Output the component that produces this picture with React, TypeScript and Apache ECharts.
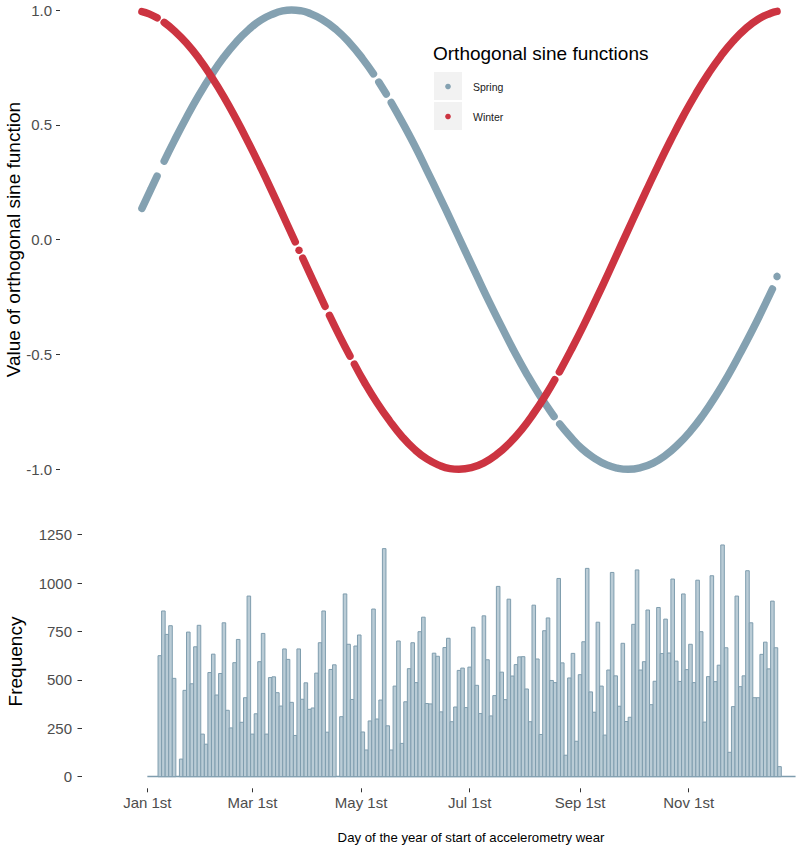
import React, { useEffect, useRef } from "react";
import * as echarts from "echarts";

// ---------- data ----------
const seriesNames = ["Spring", "Winter"];

// [day of year (Jan 1st = 0), value]; null marks days without data (gaps)
const springPoints: [number, number | null][] = [
  [-3, 0.136], [2, 0.219], [5.5, 0.277], [7.5, null], [9.5, 0.342], [15, 0.428], [22, 0.532],
  [29, 0.629], [36, 0.717], [43, 0.795], [50, 0.861], [57, 0.915], [64, 0.957], [71, 0.984],
  [76, 0.996], [81, 1.0], [86, 0.997], [90, 0.989], [98, 0.96], [106, 0.915], [114, 0.853],
  [121, 0.787], [127, 0.722], [128.5, null], [130, 0.686], [134.2, 0.634], [135.6, null],
  [137, 0.597], [143, 0.514], [150, 0.412], [157, 0.302], [164, 0.19], [171, 0.075],
  [178, -0.041], [185, -0.157], [192, -0.271], [199, -0.38], [206, -0.486], [213, -0.584],
  [220, -0.674], [226, -0.743], [228.4, -0.77], [230, null], [231.6, -0.803], [237, -0.853],
  [244, -0.91], [251, -0.951], [258, -0.981], [264, -0.995], [270, -1.0], [277, -0.993],
  [284, -0.973], [291, -0.939], [298, -0.892], [305, -0.834], [312, -0.764], [319, -0.683],
  [326, -0.593], [333, -0.494], [340, -0.39], [346, -0.296], [351, -0.215], [352.3, null],
  [353.6, -0.16],
];

const winterPoints: [number, number | null][] = [
  [-3, 0.993], [1, 0.983], [5.5, 0.966], [7.5, null], [9.5, 0.946], [15, 0.911], [22, 0.856],
  [29, 0.789], [36, 0.71], [43, 0.622], [50, 0.524], [57, 0.419], [64, 0.309], [71, 0.194],
  [78, 0.076], [83.1, -0.01], [84.15, null], [85.2, -0.046], [86.25, null], [87.3, -0.081],
  [93, -0.177], [99.8, -0.29], [101, null], [102.3, -0.33], [108, -0.42], [113.8, -0.507],
  [115, null], [116.3, -0.542], [122, -0.622], [129, -0.71], [136, -0.788], [143, -0.857],
  [150, -0.913], [157, -0.955], [164, -0.983], [170, -0.997], [175, -1.0], [182, -0.993],
  [189, -0.972], [196, -0.937], [203, -0.889], [210, -0.829], [217, -0.756], [224, -0.673],
  [228.8, -0.61], [230, null], [231.4, -0.576], [238, -0.48], [245, -0.373], [252, -0.26],
  [259, -0.144], [266, -0.025], [273, 0.093], [280, 0.21], [287, 0.325], [294, 0.435],
  [301, 0.539], [308, 0.635], [315, 0.722], [322, 0.799], [329, 0.865], [336, 0.919],
  [343, 0.96], [350, 0.986], [353.6, 0.994],
];

const topTickValues = [-1, -0.5, 0, 0.5, 1];

// histogram: 2-day bins starting at Jan 1st
const binStartDay = 0;
const binWidthDays = 2;
const frequencyCounts = [
  0, 0, 0,
  625, 856, 735, 780, 508, 0, 91, 446, 747, 480,
  671, 782, 220, 168, 538, 633, 422, 533, 795, 343,
  252, 589, 709, 281, 408, 933, 220, 325, 594, 740,
  220, 512, 516, 434, 365, 660, 606, 384, 213, 660,
  400, 485, 348, 355, 535, 692, 856, 230, 554, 578,
  0, 310, 944, 684, 399, 675, 732, 231, 138, 288,
  866, 298, 396, 1178, 263, 138, 468, 701, 172, 387,
  558, 692, 486, 749, 824, 378, 376, 638, 622, 335,
  667, 715, 284, 360, 549, 561, 357, 566, 772, 472,
  326, 831, 604, 314, 419, 983, 540, 398, 917, 520,
  579, 619, 620, 453, 284, 886, 608, 218, 754, 820,
  497, 486, 1024, 588, 111, 510, 637, 183, 527, 697,
  1076, 438, 333, 798, 468, 215, 551, 1055, 521, 364,
  689, 285, 307, 787, 1068, 551, 594, 861, 372, 493,
  874, 636, 814, 639, 1021, 597, 492, 944, 553, 684,
  486, 1015, 749, 282, 517, 1038, 491, 576, 1197, 666,
  126, 362, 933, 465, 521, 1064, 795, 408, 408, 632,
  695, 557, 907, 666, 52,
  0, 0, 0, 0,
];
const frequencyTicks = [0, 250, 500, 750, 1000, 1250];

const monthTickDays = [0, 59, 120, 181, 243, 304];
const monthTickLabels = ["Jan 1st", "Mar 1st", "May 1st", "Jul 1st", "Sep 1st", "Nov 1st"];

const topYTitle = "Value of orthogonal sine function";
const bottomYTitle = "Frequency";
const xTitle = "Day of the year of start of accelerometry wear";
const legendTitle = "Orthogonal sine functions";

// ---------- styles ----------
const FONT = "'Liberation Sans', Arial, Helvetica, sans-serif";
const SPRING_COLOR = "#84A1B1";
const WINTER_COLOR = "#CC3441";
const BAR_FILL = "#BACCD6";
const BAR_STROKE = "#7F9DAE";
const TICK_COLOR = "#333333";
const LABEL_COLOR = "#4D4D4D";
const DOT = 7.5;

const toLineData = (pts: [number, number | null][]) =>
  pts.map(([d, v]) => [d, v === null ? "-" : v]);

// points whose neighbours are both missing (drawn as single dots)
const isolatedPoints = (pts: [number, number | null][]) =>
  pts.filter(([, v], i) => {
    if (v === null) return false;
    const prev = i > 0 ? pts[i - 1][1] : null;
    const next = i < pts.length - 1 ? pts[i + 1][1] : null;
    return prev === null && next === null;
  });

export default function App() {
  const ref = useRef<HTMLDivElement>(null);

  useEffect(() => {
    if (!ref.current) return;
    const chart = echarts.init(ref.current, undefined, { renderer: "svg" });

    const binData = frequencyCounts.map((c, j) => [
      binStartDay + j * binWidthDays,
      binStartDay + (j + 1) * binWidthDays,
      c,
    ]);
    const baseline = [
      [binData[0][0], 0],
      [binData[binData.length - 1][1], 0],
    ];

    const lineSeries = (name: string, pts: [number, number | null][], color: string, z: number) => [
      {
        name,
        type: "line",
        xAxisIndex: 0,
        yAxisIndex: 0,
        data: toLineData(pts),
        smooth: 0.5,
        showSymbol: false,
        lineStyle: { color, width: DOT, cap: "round", join: "round" },
        connectNulls: false,
        clip: false,
        z,
        silent: true,
      },
      {
        name,
        type: "scatter",
        xAxisIndex: 0,
        yAxisIndex: 0,
        data: isolatedPoints(pts),
        symbol: "circle",
        symbolSize: DOT,
        itemStyle: { color, opacity: 1 },
        clip: false,
        z,
        silent: true,
      },
    ];

    const option: any = {
      animation: false,
      backgroundColor: "#ffffff",
      textStyle: { fontFamily: FONT },
      grid: [
        { left: 60, top: 10, right: 0, height: 459.3 },
        { left: 82, top: 534.7, right: 0, height: 242 },
      ],
      xAxis: [
        { gridIndex: 0, type: "value", min: -49, max: 366.5, show: false },
        {
          gridIndex: 1,
          type: "value",
          min: -36.7,
          max: 366.5,
          offset: 11.6,
          axisLine: { show: false, onZero: false },
          splitLine: { show: false },
          axisTick: {
            show: true,
            length: 4,
            customValues: monthTickDays,
            lineStyle: { color: TICK_COLOR, width: 1 },
          },
          axisLabel: {
            customValues: monthTickDays,
            formatter: (v: number) => {
              const i = monthTickDays.indexOf(Math.round(v));
              return i >= 0 ? monthTickLabels[i] : "";
            },
            fontSize: 15,
            color: LABEL_COLOR,
            margin: 7,
            fontFamily: FONT,
          },
        },
      ],
      yAxis: [
        {
          gridIndex: 0,
          type: "value",
          min: topTickValues[0],
          max: topTickValues[topTickValues.length - 1],
          interval: 0.5,
          axisLine: { show: false, onZero: false },
          splitLine: { show: false },
          axisTick: { show: true, length: 4, lineStyle: { color: TICK_COLOR, width: 1 } },
          axisLabel: {
            formatter: (v: number) => v.toFixed(1),
            fontSize: 15,
            color: LABEL_COLOR,
            margin: 8,
            fontFamily: FONT,
          },
        },
        {
          gridIndex: 1,
          type: "value",
          min: frequencyTicks[0],
          max: frequencyTicks[frequencyTicks.length - 1],
          interval: 250,
          axisLine: { show: false, onZero: false },
          splitLine: { show: false },
          axisTick: { show: true, length: 4.5, lineStyle: { color: TICK_COLOR, width: 1 } },
          axisLabel: {
            formatter: (v: number) => String(v),
            fontSize: 15,
            color: LABEL_COLOR,
            margin: 10,
            fontFamily: FONT,
          },
        },
      ],
      series: [
        ...lineSeries(seriesNames[0], springPoints, SPRING_COLOR, 2),
        ...lineSeries(seriesNames[1], winterPoints, WINTER_COLOR, 3),
        {
          type: "line",
          xAxisIndex: 1,
          yAxisIndex: 1,
          data: baseline,
          showSymbol: false,
          lineStyle: { color: BAR_STROKE, width: 1.8 },
          z: 2,
          silent: true,
        },
        {
          type: "custom",
          xAxisIndex: 1,
          yAxisIndex: 1,
          data: binData,
          encode: { x: [0, 1], y: 2 },
          silent: true,
          z: 3,
          renderItem: (_params: any, api: any) => {
            const c = api.value(2);
            if (!c) return { type: "group", children: [] };
            const p0 = api.coord([api.value(0), 0]);
            const p1 = api.coord([api.value(1), c]);
            return {
              type: "rect",
              shape: { x: p0[0], y: p1[1], width: p1[0] - p0[0], height: p0[1] - p1[1] },
              style: { fill: BAR_FILL, stroke: BAR_STROKE, lineWidth: 1 },
            };
          },
        },
      ],
      graphic: [
        {
          type: "text",
          x: 13,
          y: 239.6,
          rotation: Math.PI / 2,
          style: {
            text: topYTitle,
            fontSize: 19,
            fontFamily: FONT,
            fill: "#000000",
            align: "center",
            verticalAlign: "middle",
          },
        },
        {
          type: "text",
          x: 15,
          y: 661.5,
          rotation: Math.PI / 2,
          style: {
            text: bottomYTitle,
            fontSize: 19,
            fontFamily: FONT,
            fill: "#000000",
            align: "center",
            verticalAlign: "middle",
          },
        },
        {
          type: "text",
          x: 471,
          y: 837,
          style: {
            text: xTitle,
            fontSize: 13.2,
            fontFamily: FONT,
            fill: "#000000",
            align: "center",
            verticalAlign: "middle",
          },
        },
        {
          type: "text",
          x: 433,
          y: 53,
          style: {
            text: legendTitle,
            fontSize: 19,
            fontFamily: FONT,
            fill: "#000000",
            align: "left",
            verticalAlign: "middle",
          },
        },
        ...seriesNames.flatMap((name, i) => {
          const color = i === 0 ? SPRING_COLOR : WINTER_COLOR;
          const top = 72 + i * 30;
          return [
            { type: "rect", shape: { x: 434, y: top, width: 28, height: 28 }, style: { fill: "#F2F2F2" } },
            { type: "circle", shape: { cx: 448, cy: top + 14.5, r: 2.8 }, style: { fill: color } },
            {
              type: "text",
              x: 473,
              y: top + 14.5,
              style: {
                text: name,
                fontSize: 10.5,
                fontFamily: FONT,
                fill: "#1A1A1A",
                align: "left",
                verticalAlign: "middle",
              },
            },
          ];
        }),
      ],
    };

    chart.setOption(option);
    return () => chart.dispose();
  }, []);

  return (
    <div
      ref={ref}
      style={{ position: "absolute", left: 0, top: 0, width: 800, height: 848, background: "#fff" }}
    />
  );
}
